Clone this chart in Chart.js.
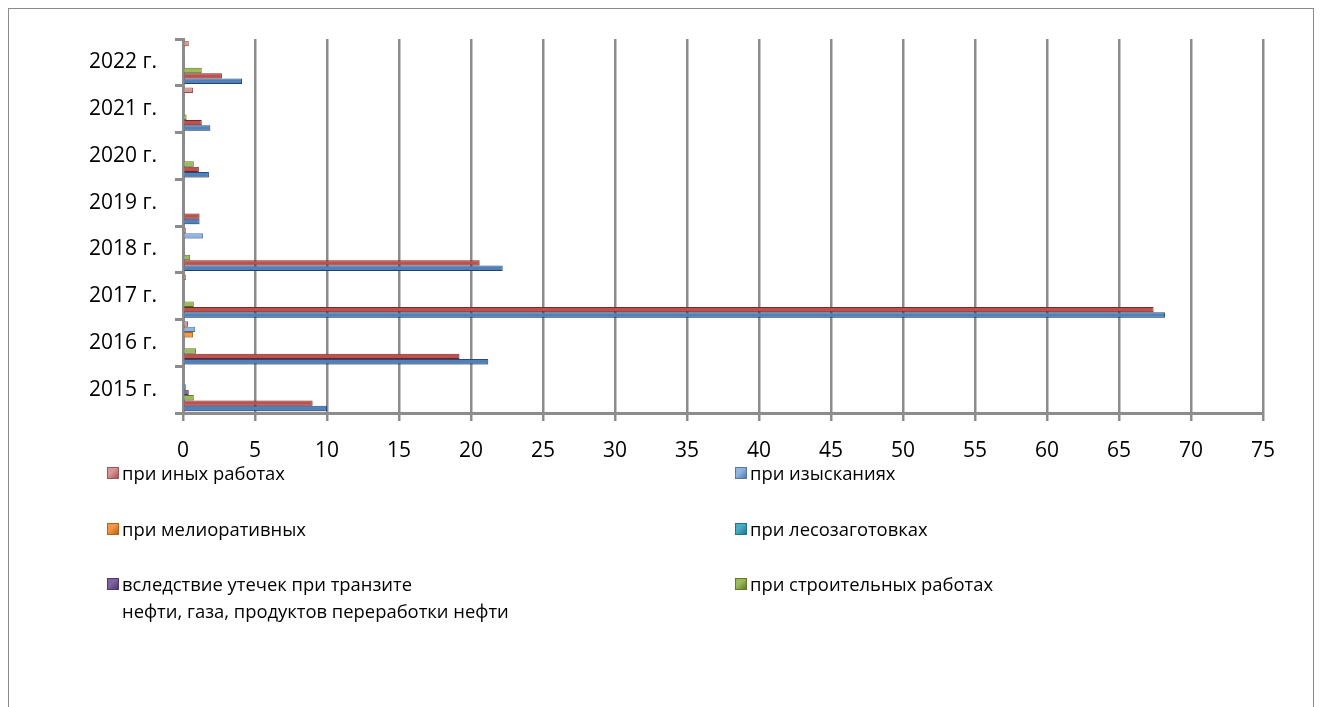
<!DOCTYPE html>
<html lang="ru">
<head>
<meta charset="utf-8">
<title>Нарушенные земли</title>
<script src="https://cdn.jsdelivr.net/npm/chart.js@4/dist/chart.umd.min.js"></script>
<style>
  html, body { margin: 0; padding: 0; background: #fff; }
  body { width: 1321px; height: 707px; position: relative; overflow: hidden; font-family: "Open Sans", sans-serif; }
  #frame { position: absolute; left: 8px; top: 8px; width: 1304px; height: 720px; border: 1px solid #8a8a8a; }
  #chart { position: absolute; left: 0; top: 0; }
  #legend { position: absolute; left: 0; top: 0; width: 1321px; height: 707px; pointer-events: none; }
  .item { position: absolute; display: flex; align-items: flex-start; font-size: 18.4px; line-height: 27px; color: #000; white-space: pre-line; }
  .box { width: 10px; height: 10px; margin-top: 8px; margin-right: 3px; flex: none; }
</style>
</head>
<body>
<div id="frame"></div>
<canvas id="chart" width="1321" height="707"></canvas>
<div id="legend"></div>
<script>
const years = ['2015 г.', '2016 г.', '2017 г.', '2018 г.', '2019 г.', '2020 г.', '2021 г.', '2022 г.'];

// series values, 2015 -> 2022
const dobycha      = [10.0, 21.2, 68.2, 22.2, 1.15, 1.8, 1.9, 4.1];
const truboprovody = [9.0, 19.2, 67.4, 20.6, 1.15, 1.1, 1.3, 2.7];
const stroitelnye  = [0.75, 0.9, 0.75, 0.5, 0.1, 0.75, 0.25, 1.3];
const utechki      = [0.4, 0, 0, 0, 0, 0, 0, 0.1];
const lesozagotovki = [0.2, 0.1, 0, 0.1, 0, 0, 0, 0];
const meliorativnye = [0, 0.7, 0.1, 0, 0, 0, 0, 0];
const izyskaniya   = [0, 0.85, 0, 1.4, 0, 0, 0, 0];
const inye         = [0, 0.35, 0.2, 0.2, 0.1, 0.1, 0.7, 0.4];

const xTicksMax = 75;
const xTicksStep = 5;

// top to bottom inside each year group
const series = [
  { name: 'при иных работах', data: inye, color: '#d99694', edge: '#9c5755', legend: true },
  { name: 'при изысканиях', data: izyskaniya, color: '#8eb4e3', edge: '#5877a3', legend: true },
  { name: 'при мелиоративных', data: meliorativnye, color: '#f79646', edge: '#b6601a', legend: true },
  { name: 'при лесозаготовках', data: lesozagotovki, color: '#4bacc6', edge: '#21758b', legend: true },
  { name: 'вследствие утечек при транзите\nнефти, газа, продуктов переработки нефти', data: utechki, color: '#8064a2', edge: '#4d3a66', legend: true },
  { name: 'при строительных работах', data: stroitelnye, color: '#9bbb59', edge: '#5f7a2a', legend: true },
  { name: 'при прокладке трубопроводов', data: truboprovody, color: '#c0504d', edge: '#7d2826', legend: false },
  { name: 'при добыче полезных ископаемых', data: dobycha, color: '#4f81bd', edge: '#2a4d79', legend: false }
];

const gridGray = '#8c8c8c';

// soft drop shadow under the bars
const barShadow = {
  id: 'barShadow',
  beforeDatasetsDraw(chart) {
    const ctx = chart.ctx;
    ctx.save();
    ctx.shadowColor = 'rgba(0,0,0,0.3)';
    ctx.shadowBlur = 4;
    ctx.shadowOffsetY = 3;
  },
  afterDatasetsDraw(chart) {
    chart.ctx.restore();
  }
};

const chart = new Chart(document.getElementById('chart'), {
  type: 'bar',
  data: {
    labels: years.slice().reverse(),
    datasets: series.map(s => ({
      label: s.name,
      data: s.data.slice().reverse(),
      backgroundColor: s.color,
      borderColor: s.edge,
      borderWidth: 1,
      barPercentage: 1,
      categoryPercentage: 0.92
    }))
  },
  options: {
    indexAxis: 'y',
    responsive: false,
    animation: false,
    layout: { padding: { top: 39, right: 58, left: 0, bottom: 0 } },
    plugins: {
      legend: { display: false },
      tooltip: { enabled: false }
    },
    scales: {
      x: {
        min: 0,
        max: xTicksMax,
        afterFit(scale) { scale.height = 294; },
        ticks: {
          stepSize: xTicksStep,
          color: '#000',
          padding: 17,
          maxRotation: 0,
          font: { family: 'Open Sans', size: 21 }
        },
        grid: { color: gridGray, lineWidth: 2.5, tickLength: 8 },
        border: { display: true, color: gridGray, width: 3 }
      },
      y: {
        afterFit(scale) { scale.width = 183; },
        ticks: {
          color: '#000',
          padding: 18,
          font: { family: 'Open Sans', size: 21 }
        },
        grid: { drawOnChartArea: false, color: gridGray, lineWidth: 3, tickLength: 8 },
        border: { display: true, color: gridGray, width: 3 }
      }
    }
  },
  plugins: [barShadow]
});

// two-column legend below the axis
const legendEl = document.getElementById('legend');
const colLeft = [107, 735];
const rowTop = [459, 515, 570];
series.filter(s => s.legend).forEach((s, i) => {
  const item = document.createElement('div');
  item.className = 'item';
  item.style.left = colLeft[i % 2] + 'px';
  item.style.top = rowTop[Math.floor(i / 2)] + 'px';
  const box = document.createElement('span');
  box.className = 'box';
  box.style.background = 'linear-gradient(135deg, ' + s.color + ' 40%, ' + s.edge + ')';
  box.style.border = '1px solid ' + s.edge;
  const text = document.createElement('span');
  text.textContent = s.name;
  item.appendChild(box);
  item.appendChild(text);
  legendEl.appendChild(item);
});
</script>
</body>
</html>
